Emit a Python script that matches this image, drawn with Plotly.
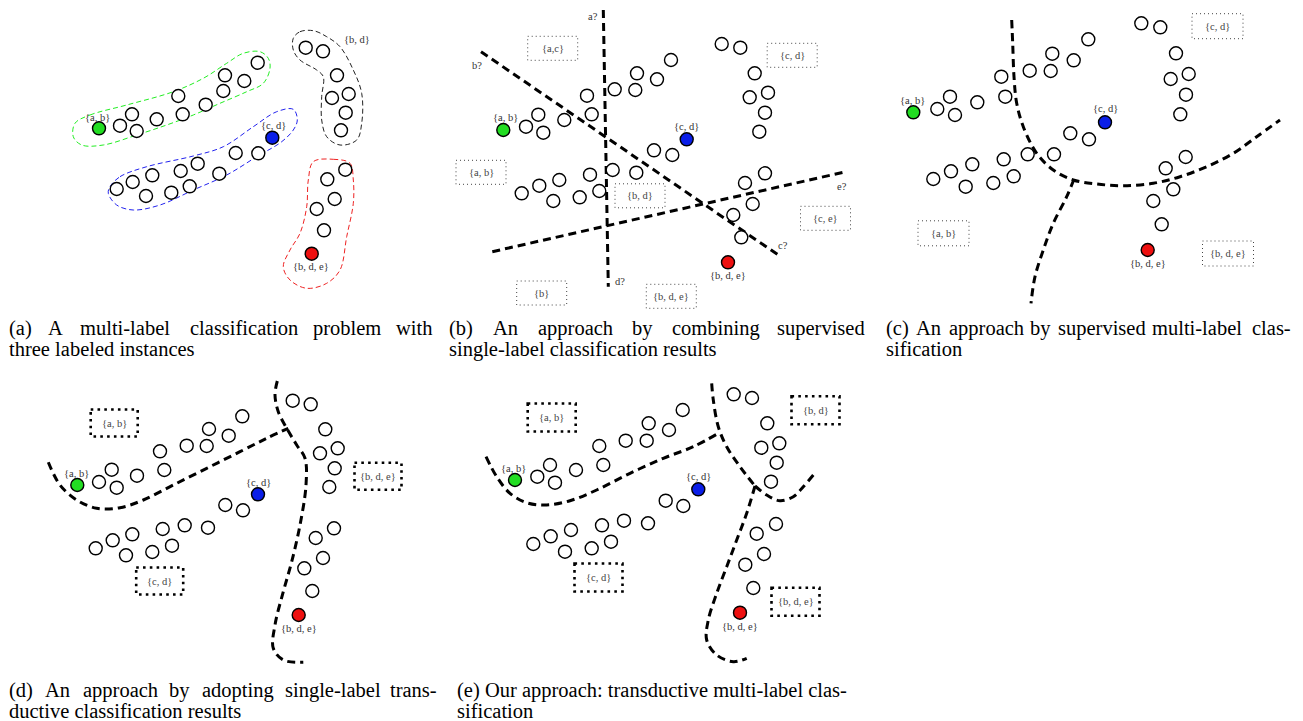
import plotly.graph_objects as go

W, H = 1303, 721

SEED_TEXT = ["{a, b}", "{c, d}", "{b, d, e}"]
SEED_COLORS = ["#22dd22", "#0a1ee8", "#ee1010"]

# ---------------- panel (a): the problem ----------------
A_OPEN_X = [120, 132, 136.7, 156.7, 178.3, 182.7, 205.7, 223.3, 225, 244.3, 257.7,
            116.7, 132.7, 146, 152.3, 171.3, 180.7, 189.7, 197.7, 219.3, 235.7, 258.3,
            305.7, 323, 337, 348.7, 332, 345.7, 341,
            345.3, 327.3, 334.7, 316.7, 324]
A_OPEN_Y = [125.7, 114.3, 131, 119.3, 96, 114.3, 104.7, 91, 75.3, 81, 62.7,
            189, 182, 196, 175.3, 192.7, 171, 186.3, 163.7, 173.7, 153, 153.3,
            47.7, 51.3, 75.3, 94, 98, 112.7, 130.3,
            169.7, 179.3, 199, 209, 230.3]
A_SEED_X = [99, 272.3, 311.7]
A_SEED_Y = [128.3, 137.7, 253.7]
A_SEED_TX = [97.3, 273.3, 310.7]
A_SEED_TY = [117.3, 125.3, 266.7]
A_EXTRA_TEXT = ["{b, d}"]
A_EXTRA_TX = [356.7]
A_EXTRA_TY = [39]

A_GREEN_LOOP_X = [75, 90, 126.7, 173.3, 203.3, 226.7, 243.3, 260, 268.3, 270, 263.3, 246.7,
                  220, 193.3, 166.7, 136.7, 103.3, 81.7, 73.3, 75]
A_GREEN_LOOP_Y = [123.3, 115, 105, 91.7, 78.3, 63.3, 53.3, 51.7, 58.3, 68.3, 83.3, 91.7,
                  103.3, 115, 125, 135, 145, 145, 136.7, 123.3]
A_BLUE_LOOP_X = [110, 120, 146.7, 193.3, 223.3, 253.3, 276.7, 293.3, 297.3, 293.3, 281.7,
                 256.7, 226.7, 193.3, 160, 133.3, 116.7, 108.3, 110]
A_BLUE_LOOP_Y = [186.7, 176.7, 166.7, 156, 146.7, 126.7, 111.7, 109.3, 120, 130, 141.7,
                 156.7, 175, 190, 205, 210, 205, 193.3, 186.7]
A_BLACK_LOOP_X = [293.3, 300, 313.3, 326.7, 340, 353.3, 361.7, 361.7, 356.7, 340, 326.7,
                  321.7, 321.7, 323.3, 316.7, 300, 293.3, 293.3]
A_BLACK_LOOP_Y = [38.3, 31.7, 30.7, 36.7, 46.7, 70, 93.3, 123.3, 140, 145, 136.7,
                  120, 96.7, 76.7, 70, 60, 50, 38.3]
A_RED_LOOP_X = [313.3, 333.3, 350, 353.3, 353.3, 346.7, 340, 326.7, 306.7, 290, 283.3,
                290, 300, 306.7, 308.3, 313.3]
A_RED_LOOP_Y = [161.7, 159.3, 163.3, 180, 203.3, 236.7, 270, 283.3, 288.3, 280, 266.7,
                250, 233.3, 206.7, 180, 161.7]

# ---------------- panel (b): combined single-label classifiers ----------------
B_OPEN_X = [526, 538.3, 543.3, 564.3, 587, 591.7, 614.7, 635.3, 637, 657, 671, 721.7,
            740.3, 754.7, 749.7, 768, 765, 759.3, 654, 672.3, 521.7, 539.3, 553.3, 559.3,
            579.7, 590, 599.3, 612.7, 636.3, 765, 745, 752.7, 733.3, 741.3]
B_OPEN_Y = [126.7, 114.7, 132.7, 120, 95.7, 114.3, 89.3, 90, 73.3, 79.3, 60, 44,
            47.7, 73.3, 97.3, 92.7, 112.7, 131.7, 150.3, 155, 193.3, 185.7, 201, 180,
            197.3, 174.7, 191, 170, 172.7, 173.3, 183, 204, 215, 237.3]
B_SEED_X = [503.3, 686.7, 728]
B_SEED_Y = [130, 139.3, 262.3]
B_SEED_TX = [505, 686.7, 728]
B_SEED_TY = [117.3, 126.7, 275.3]

B_LINE_X0 = [603.3, 481, 492.3]
B_LINE_Y0 = [10, 51.7, 251.7]
B_LINE_X1 = [608.3, 778.3, 843.3]
B_LINE_Y1 = [286.7, 255, 172.3]
B_TAG_TEXT = ["a?", "b?", "c?", "d?", "e?"]
B_TAG_X = [593.3, 477.3, 783.3, 620, 841.7]
B_TAG_Y = [16, 65, 245, 281, 186.7]

B_BOX_TEXT = ["{a,c}", "{c, d}", "{a, b}", "{b, d}", "{c, e}", "{b}", "{b, d, e}"]
B_BOX_X = [552.7, 792.2, 481, 640, 825.5, 541.7, 671.3]
B_BOX_Y = [48.3, 55.3, 172.3, 195.8, 218.3, 293, 296.3]

# ---------------- panel (c): supervised multi-label ----------------
C_OPEN_X = [937.3, 950, 955, 977.3, 1001.3, 1005.3, 1029.7, 1050.7, 1052.3, 1073.7, 1088.3,
            1141.3, 1160.3, 1176, 1170.7, 1188.7, 1186, 1180.3, 1070.3, 1089, 933.3, 951,
            965.7, 972.3, 993.3, 1003.7, 1013.7, 1027.7, 1054, 1185.7, 1165.7, 1173.3,
            1153.3, 1161.7]
C_OPEN_Y = [109, 96.7, 115, 102.3, 76.7, 96.7, 70.7, 71, 53.7, 60.3, 39.3,
            23.3, 27.3, 53.3, 79, 74, 94.7, 114.3, 133.3, 139.3, 179, 171.3,
            186.7, 164.3, 183, 159.3, 176.3, 154.3, 154.3, 157, 168.3, 189.3,
            201, 224.3]
C_SEED_X = [913.3, 1105, 1147.7]
C_SEED_Y = [112.3, 122.3, 250]
C_SEED_TX = [912.3, 1105, 1147.7]
C_SEED_TY = [100, 108.7, 263.3]
C_CURVE1_X = [1011.7, 1012.7, 1014, 1016.7, 1023.3, 1036.7, 1053.3, 1073.3, 1096.7, 1123.3,
              1153.3, 1180, 1206.7, 1233.3, 1256.7, 1280]
C_CURVE1_Y = [20, 43.3, 76.7, 103.3, 126.7, 153.3, 170, 180, 184, 185.7,
              183.3, 176.7, 166.7, 153.3, 136.7, 120]
C_CURVE2_X = [1074, 1066.7, 1053.3, 1043.3, 1035, 1031]
C_CURVE2_Y = [179.3, 196.7, 223.3, 250, 276.7, 303.3]
C_BOX_TEXT = ["{c, d}", "{a, b}", "{b, d, e}"]
C_BOX_X = [1217.5, 943.5, 1228]
C_BOX_Y = [26.2, 233.3, 253.5]

# ---------------- panel (d): single-label transductive ----------------
D_OPEN_X = [99, 111.7, 116.7, 137, 160, 164.3, 186.7, 206.7, 209, 228.7, 242.3, 292.7,
            310.7, 325.3, 320, 337.7, 334.7, 329.3, 225.3, 243, 95.7, 112.7, 126, 132.3,
            152.3, 162.7, 172, 184.7, 208, 334, 315.7, 323, 304.3, 312.3]
D_OPEN_Y = [482, 469.7, 487.7, 475.7, 451.3, 470, 445.7, 446, 429, 435.7, 416.3, 400.7,
            404.3, 429.3, 453.3, 448.3, 468.3, 487, 505, 510.3, 548.3, 540.3, 555.3, 534.3,
            552, 529, 545.7, 525.3, 527.7, 528.3, 538, 558, 568.3, 591]
D_SEED_X = [77.3, 258, 298.7]
D_SEED_Y = [485, 494.3, 615]
D_SEED_TX = [76, 258.3, 298.7]
D_SEED_TY = [473.3, 482.3, 628.3]
D_CURVE1_X = [48.3, 60, 76.7, 96.7, 120, 143.3, 173.3, 206.7, 240, 266.7, 288.3]
D_CURVE1_Y = [462.3, 485, 500, 508.3, 507.7, 500, 485, 468.3, 451.7, 438.3, 428.3]
D_CURVE2_X = [277.3, 275, 278.3, 286.7, 296.7, 305, 306, 300, 291.7, 283.3, 275, 273.3,
              283.3, 303.3]
D_CURVE2_Y = [381, 395, 411.7, 428.3, 445, 458.3, 485, 525, 561.7, 591.7, 625, 648.3,
              660, 662.3]
D_BOX_TEXT = ["{a, b}", "{c, d}", "{b, d, e}"]
D_BOX_X = [114.2, 159.7, 378]
D_BOX_Y = [423, 581, 476.3]

# ---------------- panel (e): transductive multi-label ----------------
E_OPEN_X = [537.3, 550, 555, 576, 599.3, 603.3, 625.7, 646.7, 648.7, 669, 682.7, 733.7,
            752, 767.3, 761.3, 779.3, 776.7, 771, 665.7, 683.3, 533.3, 550.7, 565, 571,
            591.7, 602, 611, 624, 648, 776, 756.7, 764, 745.3, 753.3]
E_OPEN_Y = [476.7, 465, 482.7, 470, 446, 465, 440.7, 440.7, 423.3, 430, 410, 394.3,
            398, 423.3, 447.7, 443.3, 462.7, 481.7, 500.7, 506, 544, 536.3, 551.7, 530,
            548.3, 525.3, 541.7, 520.7, 523.3, 524, 533.7, 554, 564.7, 588]
E_SEED_X = [515, 698.3, 740]
E_SEED_Y = [480, 489.3, 612.7]
E_SEED_TX = [513.3, 698.3, 740]
E_SEED_TY = [468.3, 476.7, 626.7]
E_CURVE1_X = [486, 496.7, 510, 526.7, 546.7, 570, 596.7, 630, 663.3, 693.3, 718.3]
E_CURVE1_Y = [456.7, 476.7, 493.3, 502.7, 505, 500.7, 490, 473.3, 458.3, 446.7, 433.3]
E_CURVE2_X = [711.7, 713.3, 718.3, 726.7, 740, 755]
E_CURVE2_Y = [383.3, 400, 426.7, 446.7, 466.7, 486]
E_CURVE3_X = [755, 766.7, 780, 793.3, 803.3, 813.3]
E_CURVE3_Y = [486, 495, 500.7, 496.7, 486.7, 475]
E_CURVE4_X = [755, 746.7, 736.7, 726.7, 716.7, 708.3, 706.7, 716.7, 733.3, 746.7]
E_CURVE4_Y = [486, 513.3, 540, 566.7, 593.3, 620, 640, 655, 661.7, 658.3]
E_BOX_TEXT = ["{a, b}", "{c, d}", "{b, d}", "{b, d, e}"]
E_BOX_X = [551.7, 598.5, 815.5, 795.5]
E_BOX_Y = [417.5, 577.5, 410.2, 601.7]

# ---------------- captions (first lines are justified word by word) ----------------
CAP_A1_WORDS = ["(a)", "A", "multi-label", "classification", "problem", "with"]
CAP_A1_X = [7, 46.3, 77.8, 188.2, 310.8, 394.0]
CAP_A2 = "three labeled instances"
CAP_B1_WORDS = ["(b)", "An", "approach", "by", "combining", "supervised"]
CAP_B1_X = [447, 490.9, 535.9, 629.8, 670.4, 774.5]
CAP_B2 = "single-label classification results"
CAP_C1_WORDS = ["(c)", "An", "approach", "by", "supervised", "multi-label", "clas-"]
CAP_C1_X = [884, 914.3, 946.8, 1028.2, 1056.2, 1149.8, 1250.3]
CAP_C2 = "sification"
CAP_D1_WORDS = ["(d)", "An", "approach", "by", "adopting", "single-label", "trans-"]
CAP_D1_X = [7, 43.3, 80.7, 167, 200, 283, 388.2]
CAP_D2 = "ductive classification results"
CAP_E1 = "(e) Our approach: transductive multi-label clas-"
CAP_E2 = "sification"

SERIF = "Liberation Serif, Times New Roman, serif"

fig = go.Figure()


def open_points(xs, ys):
    fig.add_trace(go.Scatter(x=xs, y=ys, mode="markers", hoverinfo="skip",
                             marker=dict(size=13, color="white",
                                         line=dict(color="black", width=1.4))))


def small_text(x, y, t, color="#333"):
    fig.add_annotation(x=x, y=y, text=t, showarrow=False,
                       font=dict(family=SERIF, size=10.5, color=color))


def seeds(xs, ys, tx, ty):
    fig.add_trace(go.Scatter(x=xs, y=ys, mode="markers", hoverinfo="skip",
                             marker=dict(size=13, color=SEED_COLORS,
                                         line=dict(color="black", width=1.4))))
    for x, y, t in zip(tx, ty, SEED_TEXT):
        small_text(x, y, t)


def curve(xs, ys, width=3, dash="8px,5px", color="black", shape="spline"):
    fig.add_trace(go.Scatter(x=xs, y=ys, mode="lines", hoverinfo="skip",
                             line=dict(color=color, width=width, dash=dash,
                                       shape=shape, smoothing=1.0)))


def boxes(cx, cy, texts, w, h, thick):
    for x, y, t in zip(cx, cy, texts):
        if thick:
            line = dict(color="black", width=2.6, dash="2.6px,4.2px")
        else:
            line = dict(color="#444", width=1, dash="1px,3px")
        fig.add_shape(type="rect", xref="x", yref="y",
                      x0=x - w / 2, x1=x + w / 2, y0=y - h / 2, y1=y + h / 2,
                      line=line)
        small_text(x, y, t, "#444")


# panel (a)
for lx, ly, col in [(A_GREEN_LOOP_X, A_GREEN_LOOP_Y, "#22ee22"),
                    (A_BLUE_LOOP_X, A_BLUE_LOOP_Y, "#2222ee"),
                    (A_BLACK_LOOP_X, A_BLACK_LOOP_Y, "#222222"),
                    (A_RED_LOOP_X, A_RED_LOOP_Y, "#ee2222")]:
    curve(lx, ly, width=1, dash="5px,3px", color=col)
open_points(A_OPEN_X, A_OPEN_Y)
seeds(A_SEED_X, A_SEED_Y, A_SEED_TX, A_SEED_TY)
for x, y, t in zip(A_EXTRA_TX, A_EXTRA_TY, A_EXTRA_TEXT):
    small_text(x, y, t)

# panel (b)
for x0, y0, x1, y1 in zip(B_LINE_X0, B_LINE_Y0, B_LINE_X1, B_LINE_Y1):
    curve([x0, x1], [y0, y1], shape="linear")
for x, y, t in zip(B_TAG_X, B_TAG_Y, B_TAG_TEXT):
    small_text(x, y, t)
boxes(B_BOX_X, B_BOX_Y, B_BOX_TEXT, 50, 24, False)
open_points(B_OPEN_X, B_OPEN_Y)
seeds(B_SEED_X, B_SEED_Y, B_SEED_TX, B_SEED_TY)

# panel (c)
curve(C_CURVE1_X, C_CURVE1_Y)
curve(C_CURVE2_X, C_CURVE2_Y)
boxes(C_BOX_X, C_BOX_Y, C_BOX_TEXT, 51, 25, False)
open_points(C_OPEN_X, C_OPEN_Y)
seeds(C_SEED_X, C_SEED_Y, C_SEED_TX, C_SEED_TY)

# panel (d)
curve(D_CURVE1_X, D_CURVE1_Y)
curve(D_CURVE2_X, D_CURVE2_Y)
boxes(D_BOX_X, D_BOX_Y, D_BOX_TEXT, 47, 27, True)
open_points(D_OPEN_X, D_OPEN_Y)
seeds(D_SEED_X, D_SEED_Y, D_SEED_TX, D_SEED_TY)

# panel (e)
for cx, cy in [(E_CURVE1_X, E_CURVE1_Y), (E_CURVE2_X, E_CURVE2_Y),
               (E_CURVE3_X, E_CURVE3_Y), (E_CURVE4_X, E_CURVE4_Y)]:
    curve(cx, cy)
boxes(E_BOX_X, E_BOX_Y, E_BOX_TEXT, 48, 28, True)
open_points(E_OPEN_X, E_OPEN_Y)
seeds(E_SEED_X, E_SEED_Y, E_SEED_TX, E_SEED_TY)

# captions
CAP_FONT = dict(family=SERIF, size=20.5, color="black")


def caption(x, y, text):
    fig.add_annotation(x=x, y=y, text=text, showarrow=False, xanchor="left",
                       yanchor="middle", font=CAP_FONT)


for words, xs, x2, line2, y1 in [
        (CAP_A1_WORDS, CAP_A1_X, 7, CAP_A2, 328),
        (CAP_B1_WORDS, CAP_B1_X, 447, CAP_B2, 328),
        (CAP_C1_WORDS, CAP_C1_X, 884, CAP_C2, 328),
        (CAP_D1_WORDS, CAP_D1_X, 7, CAP_D2, 690)]:
    for w, x in zip(words, xs):
        caption(x, y1, w)
    caption(x2, y1 + 21, line2)
caption(455, 690, CAP_E1)
caption(455, 711, CAP_E2)

fig.update_layout(
    width=W, height=H, margin=dict(l=0, r=0, t=0, b=0),
    paper_bgcolor="white", plot_bgcolor="white", showlegend=False,
    xaxis=dict(range=[0, W], visible=False, fixedrange=True),
    yaxis=dict(range=[H, 0], visible=False, fixedrange=True),
)
fig.write_html("out.html", config={"displayModeBar": False})
